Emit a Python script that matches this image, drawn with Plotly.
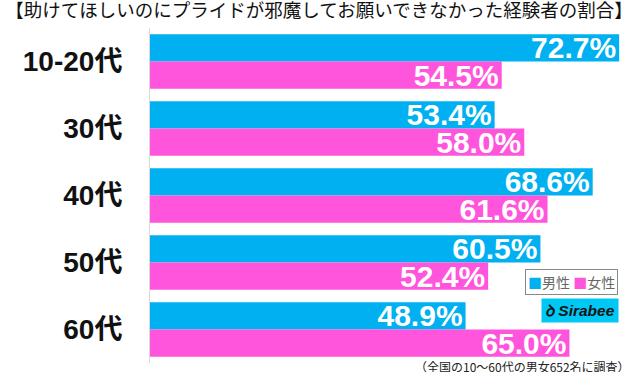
import plotly.graph_objects as go

categories = ["10-20代", "30代", "40代", "50代", "60代"]
male = [72.7, 53.4, 68.6, 60.5, 48.9]
female = [54.5, 58.0, 61.6, 52.4, 65.0]
title = "【助けてほしいのにプライドが邪魔してお願いできなかった経験者の割合】"
note = "（全国の10～60代の男女652名に調査）"

BLUE = "#00B0F0"
PINK = "#FF55DD"
LBL = "Liberation Sans, Arial, Noto Sans CJK JP"

fig = go.Figure()
for name, vals, col in [("男性", male, BLUE), ("女性", female, PINK)]:
    fig.add_trace(go.Bar(
        y=categories, x=vals, name=name, orientation="h",
        marker=dict(color=col, line=dict(width=0)),
        text=[f"{v:.1f}%" for v in vals],
        textposition="inside", insidetextanchor="end",
        constraintext="none",
        textfont=dict(family=LBL, size=30, color="white", weight="bold"),
        showlegend=False,
    ))

fig.update_layout(
    width=638, height=372,
    margin=dict(l=150, r=4, t=28, b=9),
    paper_bgcolor="white", plot_bgcolor="white",
    barmode="group", bargap=0.19, bargroupgap=0,
    title=dict(text=title, x=0.5, xref="container", xanchor="center", y=0.972, yref="container",
               yanchor="middle", font=dict(family="Noto Sans CJK JP", size=18.5, color="#111")),
    xaxis=dict(range=[0, 75], visible=False, fixedrange=True),
    yaxis=dict(autorange="reversed", showline=True, linecolor="#d9d9d9", linewidth=1,
               showgrid=False, ticks="", ticklabelstandoff=21, fixedrange=True,
               tickfont=dict(family=LBL, size=28, color="#111", weight="bold")),
    annotations=[
        dict(text=f"<span style='color:{BLUE}'>■</span>男性 <span style='color:{PINK}'>■</span>女性",
             xref="paper", yref="paper", x=1, xshift=-16, y=0.243, xanchor="right", yanchor="middle",
             showarrow=False, bordercolor="#888", borderwidth=1, borderpad=2, bgcolor="white",
             font=dict(family="Noto Sans CJK JP", size=14, color="#666")),
        dict(text="<b><i>ꝺ Sirabee</i></b>", xref="paper", yref="paper", x=1, xshift=-15, y=0.157,
             xanchor="right", yanchor="middle", showarrow=False, bgcolor="#00C8F5", borderpad=3,
             font=dict(family="Liberation Sans", size=15.5, color="#111")),
        dict(text=note, xref="paper", yref="paper", x=1, xshift=-2, y=0, yshift=-3,
             xanchor="right", yanchor="middle", showarrow=False,
             font=dict(family="Noto Sans CJK JP", size=12, color="#222")),
    ],
)

fig.write_html("out.html", config={"displayModeBar": False},
               post_script="document.body.style.margin='0';")
